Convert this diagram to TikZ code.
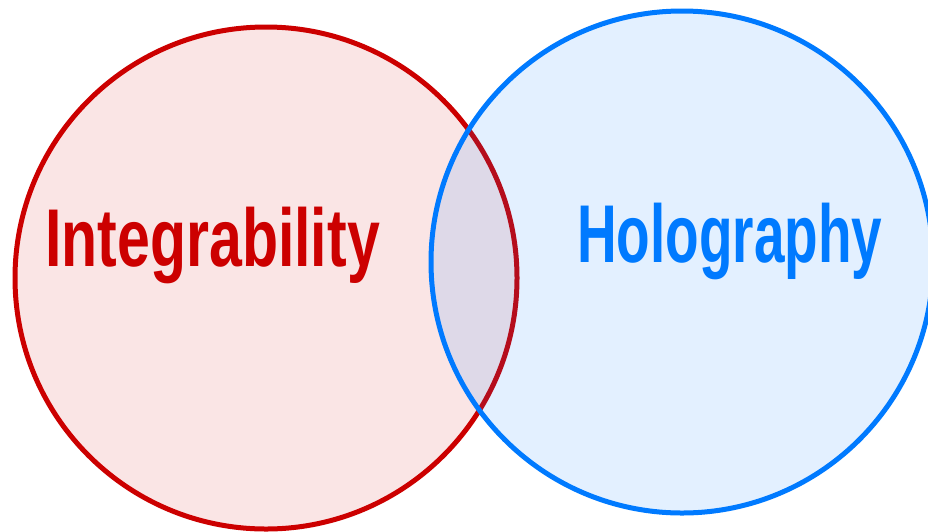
\documentclass[tikz,border=0pt]{standalone}
\usepackage{fontspec}
\setmainfont{Liberation Sans}
\usetikzlibrary{positioning}

\definecolor{integred}{RGB}{204,0,0}
\definecolor{holoblue}{RGB}{0,122,255}

\tikzset{
	set/.style={circle, minimum size=502pt, line width=5pt, inner sep=0pt},
	setname/.style={anchor=base west, inner sep=0pt, font=\fontsize{82}{82}\selectfont\bfseries},
}

\begin{document}
\begin{tikzpicture}[x=1pt, y=-1pt]

	\useasboundingbox (0,0) rectangle (928,531);

	\node[set, draw=integred, fill=integred, fill opacity=0.1, draw opacity=1] (integ) at (266,278) {};
	\node[set, draw=holoblue, fill=holoblue, fill opacity=0.11, draw opacity=1] (holo) at (682,262) {};

	\node[setname, text=integred] (integname) at (45,266) {\scalebox{0.72}[1]{Integrability}};
	\node[setname, text=holoblue] (holoname) at (577,262) {\scalebox{0.67}[1]{Holography}};

\end{tikzpicture}
\end{document}
